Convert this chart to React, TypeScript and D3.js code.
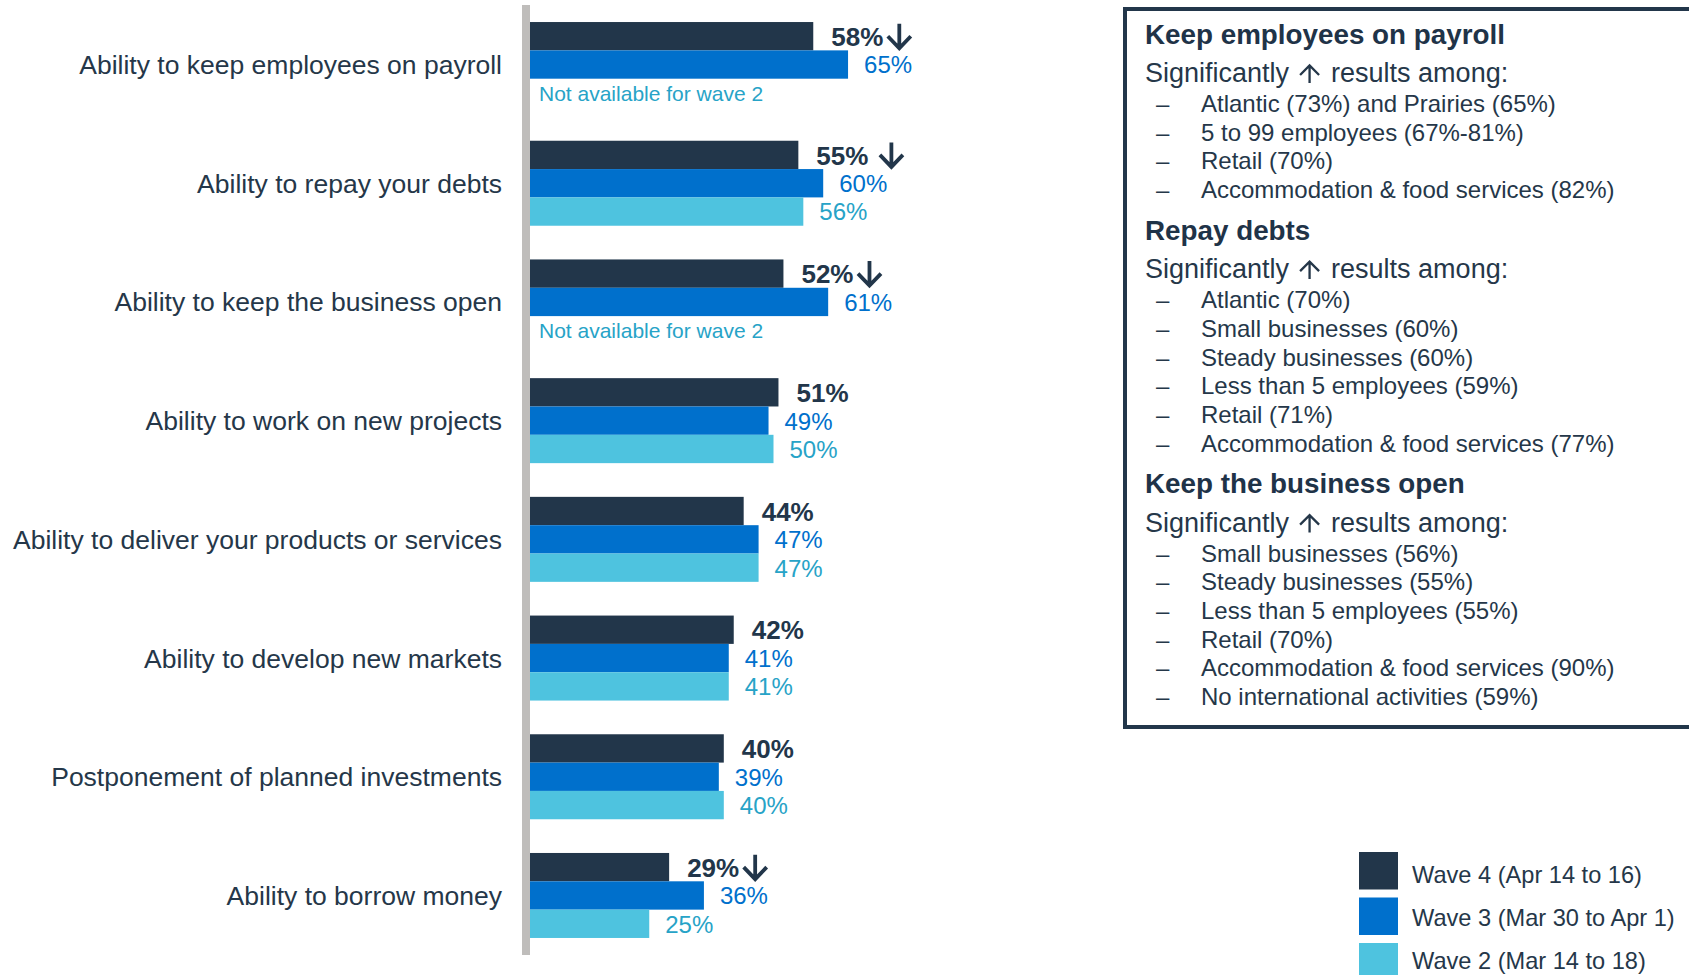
import React, { useEffect, useRef } from 'react';
import * as d3 from 'd3';

const categories = [
  'Ability to keep employees on payroll',
  'Ability to repay your debts',
  'Ability to keep the business open',
  'Ability to work on new projects',
  'Ability to deliver your products or services',
  'Ability to develop new markets',
  'Postponement of planned investments',
  'Ability to borrow money',
];
const wave4 = [58, 55, 52, 51, 44, 42, 40, 29];
const wave3 = [65, 60, 61, 49, 47, 41, 39, 36];
const wave2: (number | null)[] = [null, 56, null, 50, 47, 41, 40, 25];
// significant decrease marker after wave 4 label ('' = none, ' ' prefix = spaced)
const wave4Down = ['↓', ' ↓', '↓', '', '', '', '', '↓'];
const notAvailableText = 'Not available for wave 2';

const waveNames = ['Wave 4 (Apr 14 to 16)', 'Wave 3 (Mar 30 to Apr 1)', 'Wave 2 (Mar 14 to 18)'];
const waveColors = ['#22364A', '#0070CC', '#4EC3DF'];
const labelColors = ['#22364A', '#0070CC', '#27A3C7'];

const boxTitles = ['Keep employees on payroll', 'Repay debts', 'Keep the business open'];
const boxLead = ['Significantly', 'results among:'];
const boxItems1 = [
  'Atlantic (73%) and Prairies (65%)',
  '5 to 99 employees (67%-81%)',
  'Retail (70%)',
  'Accommodation & food services (82%)',
];
const boxItems2 = [
  'Atlantic (70%)',
  'Small businesses (60%)',
  'Steady businesses (60%)',
  'Less than 5 employees (59%)',
  'Retail (71%)',
  'Accommodation & food services (77%)',
];
const boxItems3 = [
  'Small businesses (56%)',
  'Steady businesses (55%)',
  'Less than 5 employees (55%)',
  'Retail (70%)',
  'Accommodation & food services (90%)',
  'No international activities (59%)',
];

const FONT = "'Liberation Sans', Arial, Helvetica, sans-serif";
const TEXT = '#253749';

export default function App() {
  const ref = useRef<SVGSVGElement>(null);

  useEffect(() => {
    document.body.style.margin = '0';
    const svg = d3.select(ref.current!);
    svg.selectAll('*').remove();
    svg.style('font-family', FONT);

    const x = d3.scaleLinear().domain([0, 100]).range([525, 1022]);
    const y = d3
      .scaleBand<string>()
      .domain(categories)
      .range([5, 955])
      .paddingInner(0.284)
      .paddingOuter(0.1435);
    const waveKeys = ['w4', 'w3', 'w2'];
    const yi = d3.scaleBand<string>().domain(waveKeys).range([0, y.bandwidth()]);
    const bh = yi.bandwidth();
    const series = [wave4, wave3, wave2];

    const chart = svg.append('g');

    // category labels
    chart
      .selectAll('text.cat')
      .data(categories)
      .join('text')
      .attr('class', 'cat')
      .attr('x', 502)
      .attr('y', (d) => y(d)! + y.bandwidth() / 2 + 9.5)
      .attr('text-anchor', 'end')
      .attr('font-size', 26.5)
      .attr('fill', TEXT)
      .text((d) => d);

    series.forEach((vals, k) => {
      const key = waveKeys[k];
      vals.forEach((v, i) => {
        const top = y(categories[i])! + yi(key)!;
        const cy = top + bh / 2;
        if (v == null) {
          chart
            .append('text')
            .attr('x', x(0) + 14)
            .attr('y', cy + 0.37 * 21)
            .attr('font-size', 21)
            .attr('fill', labelColors[2])
            .text(notAvailableText);
          return;
        }
        chart
          .append('rect')
          .attr('x', x(0))
          .attr('y', top)
          .attr('width', x(v) - x(0))
          .attr('height', bh)
          .attr('fill', waveColors[k]);
        const fs = k === 0 ? 26 : 24;
        const lx = x(v) + (k === 0 ? 18 : 16);
        const t = chart
          .append('text')
          .attr('x', lx)
          .attr('y', cy + 0.37 * fs)
          .attr('font-size', fs)
          .attr('font-weight', k === 0 ? 'bold' : 'normal')
          .attr('fill', labelColors[k])
          .text(`${v}%`);
        if (k === 0 && wave4Down[i]) {
          const len = (t.node() as SVGTextElement).getComputedTextLength();
          const spaced = wave4Down[i].startsWith(' ');
          const ax = lx + len + (spaced ? 11 : 4);
          const acx = ax + 12;
          const atop = cy - 12.5;
          const abot = cy + 13.5;
          chart
            .append('path')
            .attr('d', `M${acx},${atop}L${acx},${abot - 1.5}M${acx - 11.5},${abot - 13.5}L${acx},${abot - 1.5}L${acx + 11.5},${abot - 13.5}`)
            .attr('fill', 'none')
            .attr('stroke', labelColors[0])
            .attr('stroke-width', 3.8)
            .attr('stroke-linecap', 'butt')
            .attr('stroke-linejoin', 'miter');
        }
      });
    });

    // axis line
    chart
      .append('rect')
      .attr('x', 522)
      .attr('y', 5)
      .attr('width', 8)
      .attr('height', 950)
      .attr('fill', '#BFBDBB');

    // right box
    const box = svg.append('g');
    box
      .append('rect')
      .attr('x', 1125)
      .attr('y', 9)
      .attr('width', 620)
      .attr('height', 718)
      .attr('fill', 'none')
      .attr('stroke', '#22364A')
      .attr('stroke-width', 4);

    const sections = [boxItems1, boxItems2, boxItems3];
    let base = 43.5;
    sections.forEach((items, s) => {
      box
        .append('text')
        .attr('x', 1145)
        .attr('y', base)
        .attr('font-size', 27.8)
        .attr('font-weight', 'bold')
        .attr('fill', '#1F3348')
        .text(boxTitles[s]);
      const sb = base + 38.5;
      const t1 = box
        .append('text')
        .attr('x', 1145)
        .attr('y', sb)
        .attr('font-size', 27)
        .attr('fill', TEXT)
        .text(boxLead[0]);
      const l1 = (t1.node() as SVGTextElement).getComputedTextLength();
      const ax = 1145 + l1 + 10;
      const acx = ax + 10.5;
      box
        .append('path')
        .attr('d', `M${acx},${sb - 16}L${acx},${sb + 1}M${acx - 9.5},${sb - 7}L${acx},${sb - 16.5}L${acx + 9.5},${sb - 7}`)
        .attr('fill', 'none')
        .attr('stroke', TEXT)
        .attr('stroke-width', 2.3);
      box
        .append('text')
        .attr('x', ax + 21 + 11)
        .attr('y', sb)
        .attr('font-size', 27)
        .attr('fill', TEXT)
        .text(boxLead[1]);
      const ib = sb + 30;
      items.forEach((it, j) => {
        const yy = ib + j * 28.7;
        box
          .append('text')
          .attr('x', 1156)
          .attr('y', yy)
          .attr('font-size', 24)
          .attr('fill', TEXT)
          .text('–');
        box
          .append('text')
          .attr('x', 1201)
          .attr('y', yy)
          .attr('font-size', 24)
          .attr('fill', TEXT)
          .text(it);
      });
      base = ib + (items.length - 1) * 28.7 + 41.5;
    });

    // legend
    const lg = svg.append('g');
    waveNames.forEach((name, k) => {
      const ly = 852 + k * 45.5;
      lg.append('rect')
        .attr('x', 1359)
        .attr('y', ly)
        .attr('width', 39)
        .attr('height', 37.5)
        .attr('fill', waveColors[k]);
      lg.append('text')
        .attr('x', 1412)
        .attr('y', 882.5 + k * 43)
        .attr('font-size', 23.6)
        .attr('fill', TEXT)
        .text(name);
    });
  }, []);

  return <svg ref={ref} width={1689} height={975} style={{ display: 'block' }} />;
}
